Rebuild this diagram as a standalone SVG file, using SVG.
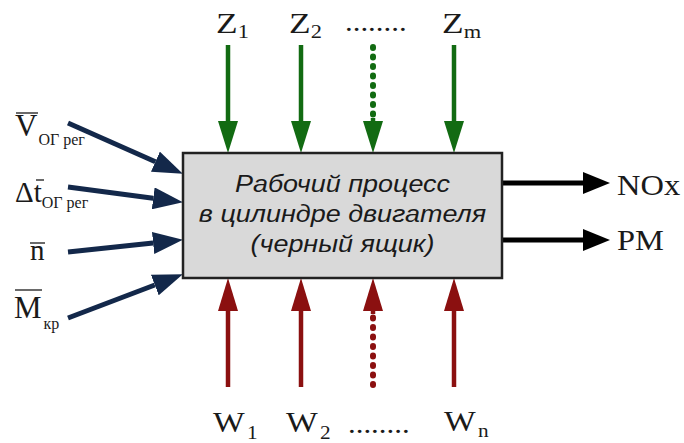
<svg xmlns="http://www.w3.org/2000/svg" width="684" height="443" viewBox="0 0 684 443">
<style>
.lbl{font-family:"Liberation Serif","Times New Roman",serif;fill:#1a1a1a}
.box-text{font-family:"Liberation Sans",Arial,sans-serif;font-style:italic;font-size:24.5px;fill:#1a1a1a;text-anchor:middle}
.navy{stroke:#13284a;stroke-width:5;fill:none}
.green{stroke:#126b12;stroke-width:4.5;fill:none}
.red{stroke:#8b1010;stroke-width:4.5;fill:none}
.black{stroke:#000;stroke-width:5;fill:none}
.dot{stroke-dasharray:1 8.5;stroke-linecap:round;stroke-width:6}
.bar{stroke:#1a1a1a;stroke-width:1.3}
</style>
<defs>
<marker id="hNavy" markerUnits="userSpaceOnUse" markerWidth="30" markerHeight="22" refX="0" refY="11" orient="auto" viewBox="0 0 30 22"><path d="M0,0 L30,11 L0,22 z" fill="#13284a"/></marker>
<marker id="hGreen" markerUnits="userSpaceOnUse" markerWidth="32" markerHeight="20" refX="0" refY="10" orient="auto" viewBox="0 0 32 20"><path d="M0,0 L32,10 L0,20 z" fill="#126b12"/></marker>
<marker id="hRed" markerUnits="userSpaceOnUse" markerWidth="33" markerHeight="20" refX="0" refY="10" orient="auto" viewBox="0 0 33 20"><path d="M0,0 L33,10 L0,20 z" fill="#8b1010"/></marker>
<marker id="hBlack" markerUnits="userSpaceOnUse" markerWidth="27" markerHeight="22" refX="0" refY="11" orient="auto" viewBox="0 0 27 22"><path d="M0,0 L27,11 L0,22 z" fill="#000"/></marker>
</defs>
<rect width="684" height="443" fill="#fff"/>

<g id="connectors">
<line class="navy" x1="68" y1="123" x2="155.4" y2="161.7" marker-end="url(#hNavy)"/>
<line class="navy" x1="68" y1="187" x2="153.2" y2="198.3" marker-end="url(#hNavy)"/>
<line class="navy" x1="68" y1="252" x2="153.1" y2="243" marker-end="url(#hNavy)"/>
<line class="navy" x1="68" y1="318" x2="154.8" y2="285" marker-end="url(#hNavy)"/>

<line class="green" x1="228" y1="45" x2="228" y2="121" marker-end="url(#hGreen)"/>
<line class="green" x1="301" y1="45" x2="301" y2="121" marker-end="url(#hGreen)"/>
<line class="green dot" x1="373" y1="47" x2="373" y2="117"/>
<line class="green" x1="373" y1="118" x2="373" y2="121" marker-end="url(#hGreen)"/>
<line class="green" x1="454" y1="45" x2="454" y2="121" marker-end="url(#hGreen)"/>

<line class="red" x1="228" y1="387" x2="228" y2="311" marker-end="url(#hRed)"/>
<line class="red" x1="301" y1="387" x2="301" y2="311" marker-end="url(#hRed)"/>
<line class="red dot" x1="373" y1="385" x2="373" y2="315"/>
<line class="red" x1="373" y1="314" x2="373" y2="311" marker-end="url(#hRed)"/>
<line class="red" x1="454" y1="387" x2="454" y2="311" marker-end="url(#hRed)"/>

<line class="black" x1="502" y1="183" x2="583" y2="183" marker-end="url(#hBlack)"/>
<line class="black" x1="502" y1="240" x2="583" y2="240" marker-end="url(#hBlack)"/>
</g>

<g id="box">
<rect x="183" y="153" width="319" height="125" fill="#d9d9d9" stroke="#222" stroke-width="2.5"/>
<g transform="translate(342.5 0) scale(1.1 1)">
<text class="box-text" x="0" y="192">Рабочий процесс</text>
<text class="box-text" x="0" y="222">в цилиндре двигателя</text>
<text class="box-text" x="0" y="252">(черный ящик)</text>
</g>
</g>

<g id="in-V">
<text class="lbl" x="15" y="136" font-size="31">V<tspan font-size="16" dy="9" dx="1">ОГ рег</tspan></text>
<line class="bar" x1="16" y1="113" x2="38" y2="113"/>
</g>
<g id="in-dt">
<text class="lbl" x="15" y="202" font-size="29">Δt<tspan font-size="16" dy="6">ОГ рег</tspan></text>
<line class="bar" x1="36" y1="180" x2="44" y2="180"/>
</g>
<g id="in-n">
<text class="lbl" x="30" y="260" font-size="29">n</text>
<line class="bar" x1="30" y1="243" x2="45" y2="243"/>
</g>
<g id="in-M">
<text class="lbl" x="14" y="318" font-size="31">M<tspan font-size="16" dy="11" dx="2">кр</tspan></text>
<line class="bar" x1="15" y1="290" x2="42" y2="290"/>
</g>

<g id="in-Z1"><text class="lbl" transform="translate(216 33) scale(1.18 1)" font-size="30">Z<tspan font-size="19" dy="5">1</tspan></text></g>
<g id="in-Z2"><text class="lbl" transform="translate(289 33) scale(1.18 1)" font-size="30">Z<tspan font-size="19" dy="5">2</tspan></text></g>
<g id="in-Zdots"><text class="lbl" transform="translate(345 31) scale(1.1 1)" font-size="28">........</text></g>
<g id="in-Zm"><text class="lbl" transform="translate(442 33) scale(1.18 1)" font-size="30">Z<tspan font-size="19" dy="5">m</tspan></text></g>

<g id="in-W1"><text class="lbl" transform="translate(213 432) scale(1.12 1)" font-size="30">W<tspan font-size="19" dy="7" dx="2">1</tspan></text></g>
<g id="in-W2"><text class="lbl" transform="translate(286 432) scale(1.12 1)" font-size="30">W<tspan font-size="19" dy="7" dx="2">2</tspan></text></g>
<g id="in-Wdots"><text class="lbl" transform="translate(348 433) scale(1.1 1)" font-size="28">........</text></g>
<g id="in-Wn"><text class="lbl" transform="translate(444 431) scale(1.12 1)" font-size="30">W<tspan font-size="19" dy="6" dx="2">n</tspan></text></g>

<g id="out-NOx"><text class="lbl" transform="translate(617 195) scale(1.12 1)" font-size="29">NOx</text></g>
<g id="out-PM"><text class="lbl" transform="translate(617 250) scale(1.12 1)" font-size="29">PM</text></g>
</svg>
